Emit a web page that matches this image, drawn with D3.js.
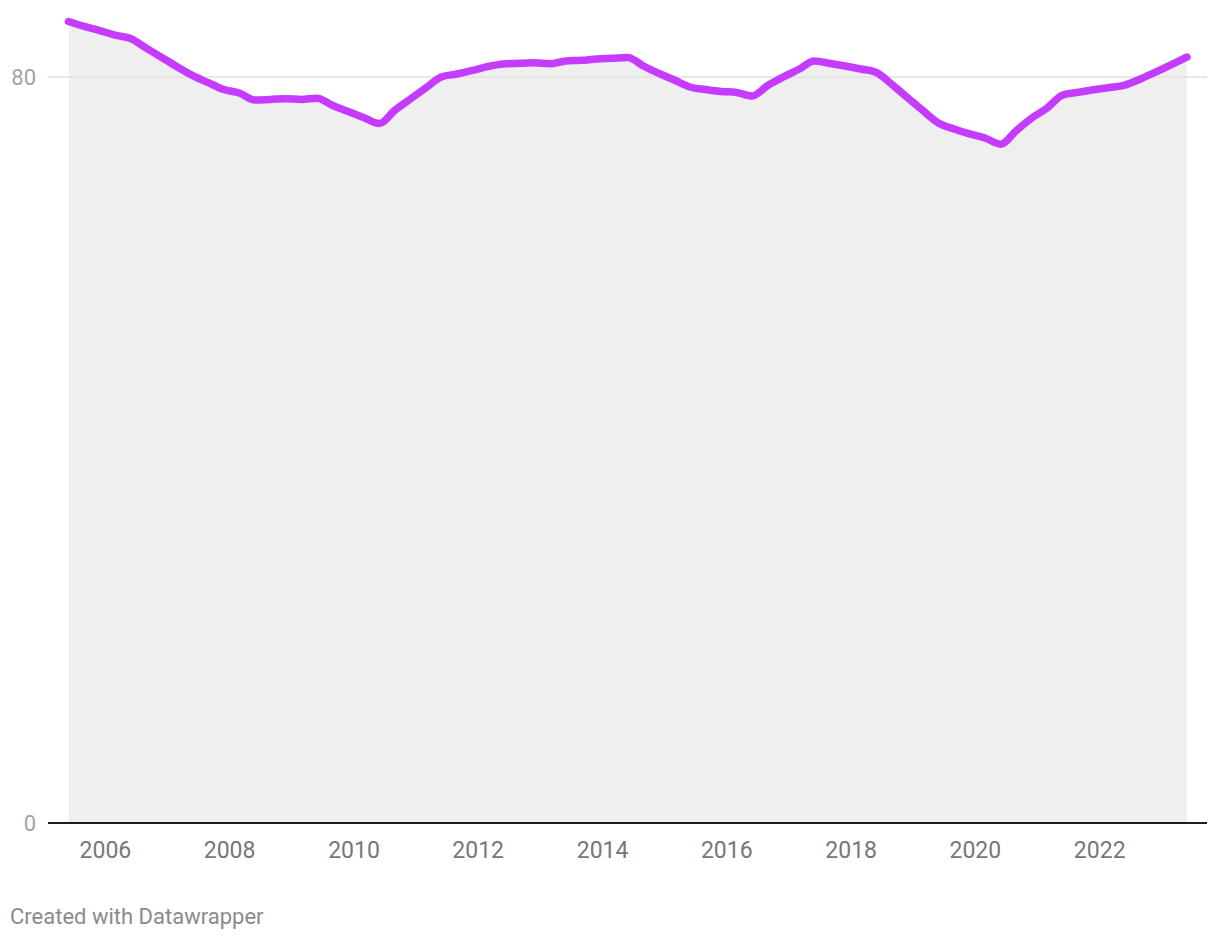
<!DOCTYPE html>
<html>
<head>
<meta charset="utf-8">
<script src="https://cdn.jsdelivr.net/npm/d3@7"></script>
<style>
  html, body { margin: 0; padding: 0; background: #fff; }
  svg { display: block; font-family: Roboto, "Noto Sans", sans-serif; }
</style>
</head>
<body>
<svg id="chart" width="1220" height="940"></svg>
<script>
// Quarterly observations, starting June 2005
const startDate = "2005-06-01";
const values = [
  85.95, 85.42, 84.98, 84.5, 84.13, 83.1, 82.1, 81.1,
  80.14, 79.39, 78.66, 78.28, 77.53, 77.6, 77.67, 77.59,
  77.73, 76.94, 76.3, 75.66, 75.01, 76.43, 77.64, 78.82,
  80.0, 80.32, 80.7, 81.13, 81.4, 81.47, 81.52, 81.42,
  81.72, 81.79, 81.93, 82.0, 82.09, 81.18, 80.38, 79.68,
  78.93, 78.66, 78.45, 78.34, 77.96, 79.09, 80.0, 80.8,
  81.72, 81.45, 81.18, 80.86, 80.48, 79.2, 77.8, 76.41,
  75.07, 74.42, 73.89, 73.46, 72.8, 74.26, 75.6, 76.68,
  78.07, 78.36, 78.64, 78.87, 79.14, 79.79, 80.54, 81.34,
  82.14
];
const xTickYears = [2006, 2008, 2010, 2012, 2014, 2016, 2018, 2020, 2022];
const yTicks = [0, 80];
const footer = "Created with Datawrapper";

const start = d3.isoParse(startDate + "T00:00:00Z");
const data = values.map((v, i) => ({ date: d3.utcMonth.offset(start, i * 3), value: v }));

const svg = d3.select("#chart");
const x = d3.scaleUtc()
  .domain(d3.extent(data, d => d.date))
  .range([68.5, 1187]);
const y = d3.scaleLinear().domain([0, 80]).range([823, 77]);

// area
svg.append("path")
  .datum(data)
  .attr("fill", "#efefef")
  .attr("d", d3.area().x(d => x(d.date)).y0(y(0)).y1(d => y(d.value)).curve(d3.curveMonotoneX));

// grid lines
svg.append("g").selectAll("line")
  .data(yTicks.filter(t => t !== 0))
  .join("line")
  .attr("x1", 48).attr("x2", 1207)
  .attr("y1", d => y(d)).attr("y2", d => y(d))
  .attr("stroke", "#e1e1e1").attr("stroke-width", 1.5);

// y labels
svg.append("g").selectAll("text")
  .data(yTicks)
  .join("text")
  .attr("x", 36)
  .attr("y", d => y(d))
  .attr("dy", "0.35em")
  .attr("text-anchor", "end")
  .attr("fill", "#a3a3a3")
  .attr("font-size", 22)
  .text(d => d);

// line
svg.append("path")
  .datum(data)
  .attr("fill", "none")
  .attr("stroke", "#c53bff")
  .attr("stroke-width", 7.5)
  .attr("stroke-linejoin", "round")
  .attr("stroke-linecap", "round")
  .attr("d", d3.line().x(d => x(d.date)).y(d => y(d.value)).curve(d3.curveMonotoneX));

// baseline
svg.append("line")
  .attr("x1", 48).attr("x2", 1207)
  .attr("y1", y(0)).attr("y2", y(0))
  .attr("stroke", "#1d1d1d").attr("stroke-width", 2);

// x axis labels
const xAxis = d3.axisBottom(x)
  .tickValues(xTickYears.map(yr => new Date(Date.UTC(yr, 0, 1))))
  .tickFormat(d3.utcFormat("%Y"))
  .tickSize(0)
  .tickPadding(0);
const gx = svg.append("g")
  .attr("transform", `translate(0, ${y(0)})`)
  .call(xAxis);
gx.select(".domain").remove();
gx.selectAll("text")
  .attr("y", 35)
  .attr("dy", 0)
  .attr("fill", "#777")
  .attr("font-size", 23)
  .attr("font-family", "Roboto, sans-serif");

// footer
svg.append("text")
  .attr("x", 10).attr("y", 924)
  .attr("fill", "#8a8a8a")
  .attr("font-size", 22)
  .text(footer);
</script>
</body>
</html>
